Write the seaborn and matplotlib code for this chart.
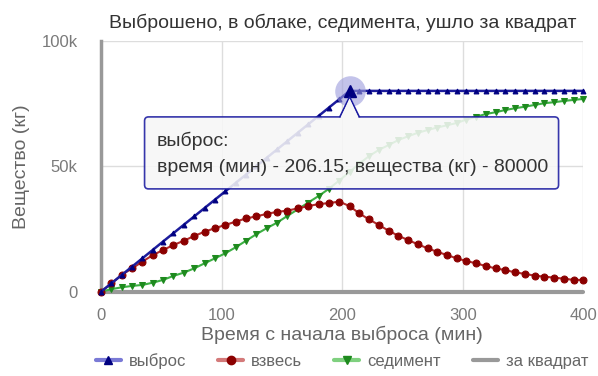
import numpy as np
import pandas as pd
import seaborn as sns
import matplotlib
matplotlib.use('Agg')
import matplotlib.pyplot as plt
from matplotlib.lines import Line2D
from matplotlib.patches import FancyBboxPatch, Polygon
from matplotlib.transforms import ScaledTranslation

# время (мин)
times = [0, 8.6, 17.2, 25.8, 34.4, 43.0, 51.5, 60.1, 68.7, 77.3, 85.9, 94.5, 103.1,
         111.7, 120.3, 128.8, 137.4, 146.0, 154.6, 163.2, 171.8, 180.4, 189.0, 197.6,
         206.15, 214.2, 222.3, 230.4, 238.5, 246.5, 254.6, 262.7, 270.8, 278.8, 286.9,
         295.0, 303.1, 311.2, 319.2, 327.3, 335.4, 343.5, 351.5, 359.6, 367.7, 375.8,
         383.8, 391.9, 400.0]

# выброс (кг)
vybros = [0, 3330, 6670, 10000, 13330, 16670, 20000, 23330, 26670, 30000, 33330, 36670,
          40000, 43330, 46670, 50000, 53330, 56670, 60000, 63330, 66670, 70000, 73330,
          76670, 80000, 80000, 80000, 80000, 80000, 80000, 80000, 80000, 80000, 80000,
          80000, 80000, 80000, 80000, 80000, 80000, 80000, 80000, 80000, 80000, 80000,
          80000, 80000, 80000, 80000]

# взвесь (кг)
vzves = [0, 3300, 6700, 9300, 12000, 14600, 16600, 18600, 20300, 22200, 23900, 25300,
         26600, 27900, 29200, 30000, 31000, 31800, 32300, 33200, 34100, 34900, 35300,
         35900, 34100, 31200, 28800, 26600, 24300, 22300, 20600, 18900, 17300, 15900,
         14600, 13300, 12200, 11300, 10200, 9300, 8600, 7700, 7100, 6400, 6000, 5600,
         5200, 4700, 4700]

# седимент (кг)
sediment = [0, 1000, 1750, 2300, 2700, 3600, 4700, 6300, 7600, 9300, 11300, 13300,
            15300, 17700, 20300, 22900, 25300, 27500, 30200, 32800, 35500, 38100, 41000,
            44300, 47700, 51000, 54000, 56500, 58400, 60400, 61900, 63300, 64400, 65400,
            66300, 67200, 68600, 69700, 70800, 71500, 72400, 73100, 73700, 74400, 75100,
            75500, 76000, 76400, 76800]

# ушло за квадрат (кг)
za_kvadrat = [0] * 49

hover_idx = 24

sns.set_theme(style="white")
plt.rcParams['font.family'] = ['Liberation Sans', 'DejaVu Sans']

df = pd.DataFrame({"t": times, "выброс": vybros, "взвесь": vzves,
                   "седимент": sediment, "за квадрат": za_kvadrat})

fig = plt.figure(figsize=(5.98, 3.76), dpi=100)
ax = fig.add_axes([101 / 598, 1 - 291.7 / 376, 482.3 / 598, 251 / 376])

sns.lineplot(data=df, x="t", y="за квадрат", ax=ax, color="#999999", linewidth=3,
             zorder=3, clip_on=False)
sns.lineplot(data=df, x="t", y="седимент", ax=ax, color="#3cb043", linewidth=1.5,
             marker="v", markersize=5, markerfacecolor="#1e8a1e", markeredgecolor="#1e8a1e",
             zorder=4, clip_on=False)
sns.lineplot(data=df, x="t", y="взвесь", ax=ax, color="#b22a2a", linewidth=1.5,
             marker="o", markersize=5, markerfacecolor="#8b0000", markeredgecolor="#8b0000",
             zorder=5, clip_on=False)
sns.lineplot(data=df, x="t", y="выброс", ax=ax, color="#1c1c9c", linewidth=1.8,
             marker="^", markersize=3.5, markerfacecolor="#000080", markeredgecolor="#000080",
             zorder=6, clip_on=False)

# подсветка точки
hx, hy = times[hover_idx], vybros[hover_idx]
ax.plot([hx], [hy], marker="o", markersize=22, color="#9c9cdc", alpha=0.6,
        markeredgewidth=0, zorder=7, clip_on=False)
ax.plot([hx], [hy], marker="^", markersize=9, color="#000080", zorder=8, clip_on=False)

ax.set_xlim(0, 400)
ax.set_ylim(0, 100000)
ax.set_xticks([0, 100, 200, 300, 400])
ax.set_yticks([0, 50000, 100000])
ax.set_yticklabels(["0", "50k", "100k"])
ax.grid(True, color="#dddddd", linewidth=1)
ax.tick_params(axis="x", length=5, color="#d5d8ee", pad=7, labelsize=12, labelcolor="#7a7a7a")
ax.tick_params(axis="y", length=0, pad=17, labelsize=12, labelcolor="#7a7a7a")
for s in ["top", "right", "bottom"]:
    ax.spines[s].set_visible(False)
ax.spines["left"].set_color("#999999")
ax.spines["left"].set_linewidth(2.5)

ax.set_xlabel("Время с начала выброса (мин)", fontsize=14, color="#666666", labelpad=2)
ax.set_ylabel("Вещество (кг)", fontsize=14, color="#666666", labelpad=8)
ax.set_title("Выброшено, в облаке, седимента, ушло за квадрат", fontsize=14,
             color="#333333", pad=9, x=(343 - 101) / 482.3)

# подсказка
tr = fig.dpi_scale_trans + ScaledTranslation(hx, hy, ax.transData)
px = 1 / 100
box = FancyBboxPatch((-205 * px, -98 * px), 414 * px, 72 * px,
                     boxstyle="round,pad=0,rounding_size=0.04", transform=tr,
                     facecolor="#f7f7f7", edgecolor="#1a1aa0", linewidth=1.2,
                     alpha=0.88, zorder=9, clip_on=False)
ax.add_patch(box)
ptr = Polygon([(-10 * px, -26.6 * px), (0, -6 * px), (10 * px, -26.6 * px)],
              closed=False, transform=tr, facecolor="#f7f7f7", edgecolor="#1a1aa0",
              linewidth=1.2, zorder=10, clip_on=False)
ax.add_patch(ptr)
ax.add_patch(Polygon([(-9 * px, -27.5 * px), (0, -7.5 * px), (9 * px, -27.5 * px)],
                     transform=tr, facecolor="#f7f7f7", edgecolor="none", zorder=10,
                     clip_on=False))
ax.text(-193 * px, -50 * px, "выброс:", transform=tr, fontsize=14, color="#333333",
        va="center", ha="left", zorder=11)
ax.text(-193 * px, -77 * px,
        "время (мин) - %s; вещества (кг) - %d" % (times[hover_idx], vybros[hover_idx]),
        transform=tr, fontsize=14, color="#333333", va="center", ha="left", zorder=11)

handles = [
    Line2D([], [], color="#7a7ad6", linewidth=3, marker="^", markersize=6,
           markerfacecolor="#000080", markeredgecolor="#000080"),
    Line2D([], [], color="#d47a7a", linewidth=3, marker="o", markersize=6,
           markerfacecolor="#8b0000", markeredgecolor="#8b0000"),
    Line2D([], [], color="#7fd07f", linewidth=3, marker="v", markersize=6,
           markerfacecolor="#1e8a1e", markeredgecolor="#1e8a1e"),
    Line2D([], [], color="#999999", linewidth=3),
]
labels = ["выброс", "взвесь", "седимент", "за квадрат"]
fig.legend(handles, labels, loc="center", bbox_to_anchor=(342 / 598, 1 - 361 / 376),
           ncol=4, frameon=False, fontsize=12, labelcolor="#666666",
           handlelength=1.5, handletextpad=0.5, columnspacing=1.9)

fig.savefig("out.png", dpi=100)
